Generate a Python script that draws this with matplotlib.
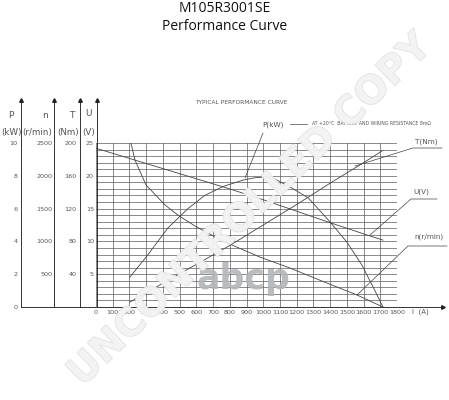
import numpy as np
import matplotlib
matplotlib.use('Agg')
import matplotlib.pyplot as plt
import matplotlib.patheffects as pe

# curvas (corriente en A)
current_U = [0, 200, 400, 600, 800, 1000, 1200, 1400, 1600, 1716]
voltage = [24.2, 22.65, 21.1, 19.55, 18.0, 16.35, 14.6, 12.85, 11.15, 10.2]

current_T = [203, 400, 600, 800, 1000, 1200, 1400, 1600, 1716]
torque = [6, 29, 52, 75, 100, 125, 151, 176, 191]

current_P = [203, 300, 430, 550, 650, 760, 880, 950, 1010, 1070, 1160, 1270, 1400, 1500, 1590, 1660, 1716]
power = [1.83, 3.05, 4.82, 6.0, 6.8, 7.35, 7.74, 7.88, 7.93, 7.8, 7.32, 6.65, 5.18, 3.96, 2.56, 1.16, 0]

current_n = [209, 233, 299, 413, 490, 592, 700, 813, 981, 1160, 1350, 1561, 1716]
speed = [2500, 2240, 1860, 1555, 1400, 1235, 1085, 945, 760, 594, 397, 183, 0]

x_ticks = list(range(0, 1801, 100))
U_ticks = [5, 10, 15, 20, 25]
P_ticks = [0, 2, 4, 6, 8, 10]
n_ticks = [500, 1000, 1500, 2000, 2500]
T_ticks = [40, 80, 120, 160, 200]

W, H = 449, 400
X0, X1, Y0, Y1 = 96, 397, 307, 143   # caja de la grilla en pixeles

fig = plt.figure(figsize=(W / 100, H / 100), dpi=100)
ax = fig.add_axes([X0 / W, 1 - Y0 / H, (X1 - X0) / W, (Y0 - Y1) / H])

def fa(x, y):
    # pixel -> fraccion de ejes
    return (x - X0) / (X1 - X0), (Y0 - y) / (Y0 - Y1)

line_c = '#444444'
grid_c = '#5a5a5a'
txt_c = '#555555'

ax.set_xlim(0, 1800)
ax.set_ylim(0, 25)
ax.set_xticks(x_ticks)
ax.set_yticks(U_ticks)
ax.set_yticks(range(0, 26), minor=True)
ax.grid(True, which='both', color=grid_c, lw=0.5)
ax.tick_params(axis='both', which='both', length=0, labelsize=4.6, colors=txt_c)
ax.tick_params(axis='x', pad=2)
ax.tick_params(axis='y', pad=1.5)
for s in ax.spines.values():
    s.set_visible(False)

ax.plot(current_U, voltage, color=line_c, lw=0.6)

axP = ax.twinx()
axn = ax.twinx()
axT = ax.twinx()
for tw, top, ticks, xpix, pad in [(axP, 10, P_ticks, 21, 2.5),
                                  (axn, 2500, n_ticks, 54, 1.0),
                                  (axT, 200, T_ticks, 80, 2.5)]:
    tw.set_ylim(0, top)
    tw.set_yticks(ticks)
    tw.yaxis.tick_left()
    tw.spines['left'].set_position(('axes', fa(xpix, 0)[0]))
    for s in tw.spines.values():
        s.set_visible(False)
    tw.tick_params(axis='y', length=0, labelsize=4.6, colors=txt_c, pad=pad)

axP.plot(current_P, power, color=line_c, lw=0.6)
axn.plot(current_n, speed, color=line_c, lw=0.6)
axT.plot(current_T, torque, color=line_c, lw=0.6)

# ejes verticales con flecha
top = fa(0, 100)[1]
for xpix in [21, 54, 80, 96.5]:
    fx = fa(xpix, 0)[0]
    ax.plot([fx, fx], [0, top], transform=ax.transAxes, clip_on=False, color='#333333', lw=0.7)
    ax.plot(fx, top, marker='^', ms=2.6, color='#222222', transform=ax.transAxes, clip_on=False)
# eje horizontal
xa, xb = fa(21, 0)[0], fa(443, 0)[0]
ax.plot([xa, xb], [0, 0], transform=ax.transAxes, clip_on=False, color='#333333', lw=0.7)
ax.plot(xb, 0, marker='>', ms=2.6, color='#222222', transform=ax.transAxes, clip_on=False)

def t(x, y, s, **kw):
    kw.setdefault('fontsize', 4.6)
    kw.setdefault('color', txt_c)
    kw.setdefault('ha', 'center')
    kw.setdefault('va', 'center')
    ax.text(*fa(x, y), s, transform=ax.transAxes, **kw)

# titulos de los ejes
for x, s in [(11, 'P'), (45, 'n'), (72, 'T'), (88, 'U')]:
    t(x, 116 if s != 'U' else 113, s, fontsize=6.5)
for x, s in [(11, '(kW)'), (37, '(r/min)'), (68.5, '(Nm)'), (89, '(V)')]:
    t(x, 132, s, fontsize=6.3)
t(420, 312, 'I  (A)', fontsize=5)

t(241, 103, 'TYPICAL PERFORMANCE CURVE', fontsize=4.2)
ax.plot([fa(290, 0)[0], fa(307, 0)[0]], [fa(0, 124)[1]] * 2, transform=ax.transAxes,
        clip_on=False, color=line_c, lw=0.5)
t(312, 124, 'AT +20°C  BATTERY AND WIRING RESISTANCE 8mΩ', fontsize=3.3, ha='left')

# etiquetas de curvas con lineas guia
def leader(pts, label, lx, ly):
    xs = [fa(x, y)[0] for x, y in pts]
    ys = [fa(x, y)[1] for x, y in pts]
    ax.plot(xs, ys, transform=ax.transAxes, clip_on=False, color=line_c, lw=0.5)
    t(lx, ly, label, fontsize=5.2)

leader([(245, 178), (263, 133)], 'P(kW)', 273, 125)
leader([(355, 166), (413, 148), (442, 148)], 'T(Nm)', 426, 142)
leader([(370, 235), (411, 199), (437, 199)], 'U(V)', 421, 192)
leader([(357, 295), (408, 246), (447, 246)], 'n(r/min)', 429, 237)

# marca de agua
fig.text(243 / W, 1 - 289 / H, 'abcp', fontsize=25, fontweight='bold', color='#b2b6ba',
         ha='center', va='baseline', alpha=0.9)
fig.text(250 / W, 1 - 210 / H, 'UNCONTROLLED COPY', fontsize=28, fontweight='bold',
         color='#f3f3f3', rotation=44, ha='center', va='center', alpha=0.8,
         path_effects=[pe.withStroke(linewidth=1.0, foreground='#dcdcdc')])

fig.text(224.5 / W, 1 - 8 / H, 'M105R3001SE', fontsize=10, family='Open Sans',
         ha='center', va='center', color='#111111')
fig.text(224.5 / W, 1 - 27 / H, 'Performance Curve', fontsize=10, family='Open Sans',
         ha='center', va='center', color='#111111')

fig.savefig('out.png', dpi=100)
